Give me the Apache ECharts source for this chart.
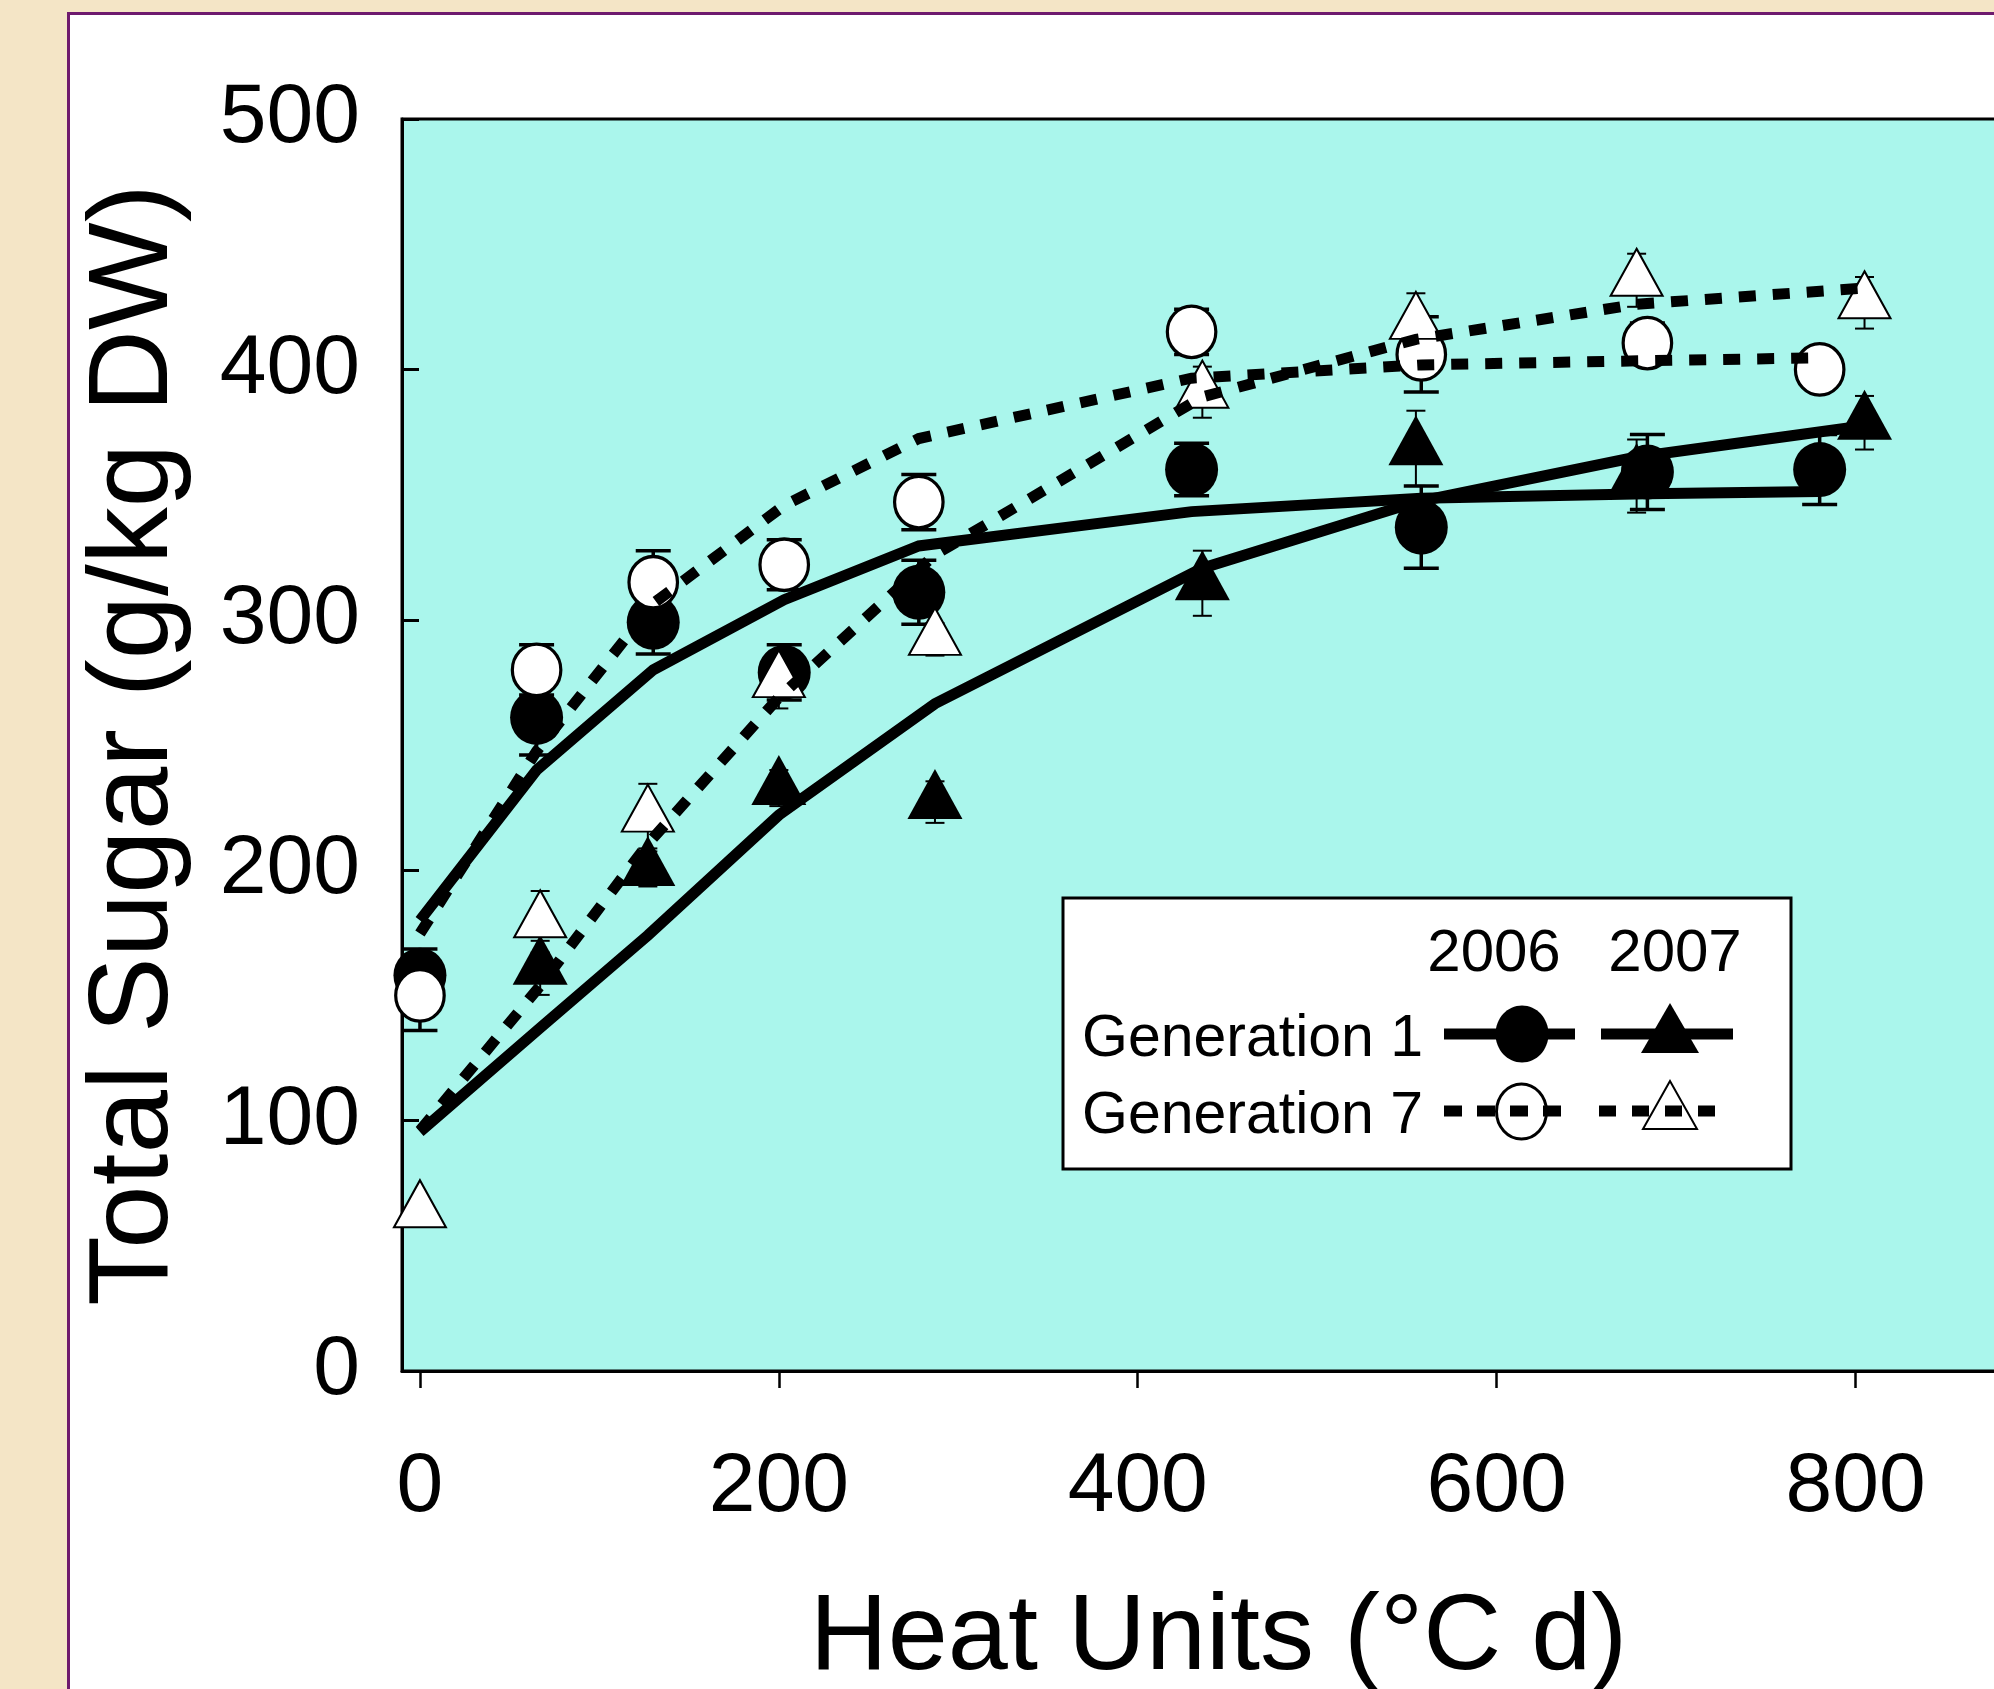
<!DOCTYPE html>
<html>
<head>
<meta charset="utf-8">
<script src="https://cdn.jsdelivr.net/npm/echarts@6/dist/echarts.min.js"></script>
<style>
html,body{margin:0;padding:0;width:1994px;height:1689px;overflow:hidden;background:#F4E5C6;}
#panel{position:absolute;left:67px;top:12px;width:2000px;height:1720px;background:#fff;border-left:3px solid #6E1A6E;border-top:3px solid #6E1A6E;box-sizing:border-box;}
#chart{position:absolute;left:0;top:0;width:2035px;height:1689px;}
</style>
</head>
<body>
<div id="panel"></div>
<div id="chart"></div>
<script>
// ---- data ----
const xTickValues = [0, 200, 400, 600, 800];
const heatUnits2006 = [0, 65, 130, 203, 278, 430, 558, 684, 780];
const heatUnits2007 = [0, 67, 127, 200, 287, 436, 555, 678, 805];

const gen1_2006 = [158, 261, 299, 279, 311, 360, 337, 359, 360];
const gen1_2006_se = [10.5, 15, 12.7, 11, 12.8, 10.5, 16.4, 15, 14];
const gen7_2006 = [150, 280, 315, 322, 347, 415, 406, 410.5, 400];
const gen7_2006_se = [14, 10, 12.6, 10, 11, 9, 15, 8, 5];

const gen1_2007 = [null, 161, 200.5, 232.8, 227.2, 314.6, 368.5, 357.4, 378.7];
const gen1_2007_se = [null, 10.8, 7, 7.2, 8.3, 13, 15, 14.6, 10.7];
const gen7_2007 = [63.6, 179.4, 221.6, 275.3, 292.2, 390.9, 418.4, 435.6, 426.6];
const gen7_2007_se = [3, 12.3, 12.9, 10.7, 6.5, 10.2, 12, 10.6, 10.3];

const fitGen1_2006 = [180, 240, 280, 308, 329.5, 343.2, 348.5, 350.3, 351.2];
const fitGen7_2006 = [174.7, 247.5, 306.5, 345.7, 372.4, 396.5, 401.8, 403.5, 404.6];
const fitGen1_2007 = [95.5, 137, 174, 222, 266.5, 320.6, 347, 365, 377.5];
const fitGen7_2007 = [96, 153.8, 210.5, 269, 326, 389, 412, 426, 432.5];

const legendYears = ['2006', '2007'];
const legendRows = ['Generation 1', 'Generation 7'];
const xTitle = 'Heat Units (°C d)';
const yTitle = 'Total Sugar (g/kg DW)';

// ---- helpers ----
const FONT = '"Liberation Sans", Arial, sans-serif';
function pts(xs, ys) {
  const out = [];
  xs.forEach((x, i) => { if (ys[i] != null) out.push([x, ys[i]]); });
  return out;
}
function errRows(xs, ys, es) {
  const out = [];
  xs.forEach((x, i) => { if (ys[i] != null && es[i] != null) out.push([x, ys[i], es[i]]); });
  return out;
}
function errRender(capHalf, lw) {
  return function (params, api) {
    const x = api.value(0), y = api.value(1), e = api.value(2);
    const t = api.coord([x, y + e]);
    const b = api.coord([x, y - e]);
    const st = { stroke: '#000', lineWidth: lw };
    return {
      type: 'group',
      children: [
        { type: 'line', shape: { x1: t[0], y1: t[1], x2: b[0], y2: b[1] }, style: st },
        { type: 'line', shape: { x1: t[0] - capHalf, y1: t[1], x2: t[0] + capHalf, y2: t[1] }, style: st },
        { type: 'line', shape: { x1: b[0] - capHalf, y1: b[1], x2: b[0] + capHalf, y2: b[1] }, style: st }
      ]
    };
  };
}
function fitLine(xs, ys, dashed) {
  return {
    type: 'line', data: pts(xs, ys), showSymbol: false, symbol: 'none', z: 5, silent: true,
    lineStyle: { color: '#000', width: 11, type: dashed ? [17, 17] : 'solid', cap: 'butt', join: 'miter' }
  };
}

const chart = echarts.init(document.getElementById('chart'), null, { renderer: 'canvas' });

// legend drawn as graphic elements (2x2 layout with year headers)
const LX = 1063, LY = 898;
const legendGraphic = [
  { type: 'rect', shape: { x: LX, y: LY, width: 728, height: 271 }, style: { fill: '#fff', stroke: '#000', lineWidth: 3 }, z: 10 },
  { type: 'text', x: 1494, y: 954, style: { text: legendYears[0], font: '60px ' + FONT, fill: '#000', align: 'center', verticalAlign: 'middle' }, z: 11 },
  { type: 'text', x: 1675, y: 954, style: { text: legendYears[1], font: '60px ' + FONT, fill: '#000', align: 'center', verticalAlign: 'middle' }, z: 11 },
  { type: 'text', x: 1082, y: 1040, style: { text: legendRows[0], font: '59px ' + FONT, fill: '#000', align: 'left', verticalAlign: 'middle' }, z: 11 },
  { type: 'text', x: 1082, y: 1117, style: { text: legendRows[1], font: '59px ' + FONT, fill: '#000', align: 'left', verticalAlign: 'middle' }, z: 11 },
  // Generation 1, 2006
  { type: 'line', shape: { x1: 1444, y1: 1034, x2: 1575, y2: 1034 }, style: { stroke: '#000', lineWidth: 11 }, z: 11 },
  { type: 'ellipse', shape: { cx: 1522, cy: 1034, rx: 26.5, ry: 28.5 }, style: { fill: '#000' }, z: 12 },
  // Generation 1, 2007
  { type: 'line', shape: { x1: 1601, y1: 1034, x2: 1733, y2: 1034 }, style: { stroke: '#000', lineWidth: 11 }, z: 11 },
  { type: 'polygon', shape: { points: [[1670, 1003], [1641, 1053], [1699, 1053]] }, style: { fill: '#000' }, z: 12 },
  // Generation 7, 2006
  { type: 'ellipse', shape: { cx: 1521.5, cy: 1111.5, rx: 25, ry: 27.5 }, style: { fill: '#fff', stroke: '#000', lineWidth: 3 }, z: 11 },
  { type: 'line', shape: { x1: 1444, y1: 1111, x2: 1562, y2: 1111 }, style: { stroke: '#000', lineWidth: 11, lineDash: [18, 15] }, z: 12 },
  // Generation 7, 2007
  { type: 'polygon', shape: { points: [[1670, 1081], [1643, 1129], [1697, 1129]] }, style: { fill: '#fff', stroke: '#000', lineWidth: 2 }, z: 11 },
  { type: 'line', shape: { x1: 1599, y1: 1111, x2: 1717, y2: 1111 }, style: { stroke: '#000', lineWidth: 11, lineDash: [17, 16] }, z: 12 }
];

const option = {
  animation: false,
  backgroundColor: 'transparent',
  grid: {
    left: 402, top: 119, right: 0, bottom: 318,
    outerBoundsMode: 'none', containLabel: false,
    show: true, backgroundColor: '#AAF6EC', borderColor: '#000', borderWidth: 3
  },
  xAxis: {
    type: 'value', min: -10, max: 900,
    axisLine: { show: true, onZero: false, lineStyle: { color: '#000', width: 3 } },
    axisTick: { show: true, inside: false, length: 17, lineStyle: { color: '#000', width: 2.5 }, customValues: xTickValues },
    axisLabel: { customValues: xTickValues, margin: 75, fontSize: 84, color: '#000', fontFamily: FONT },
    splitLine: { show: false },
    name: xTitle, nameLocation: 'middle', nameGap: 214,
    nameTextStyle: { fontSize: 108, color: '#000', fontFamily: FONT }
  },
  yAxis: {
    type: 'value', min: 0, max: 500, interval: 100,
    axisLine: { show: true, onZero: false, lineStyle: { color: '#000', width: 3 } },
    axisTick: { show: true, inside: true, length: 17, lineStyle: { color: '#000', width: 3 } },
    axisLabel: { margin: 42, fontSize: 84, color: '#000', fontFamily: FONT, padding: [8, 0, 0, 0] },
    splitLine: { show: false },
    name: yTitle, nameLocation: 'middle', nameGap: 209,
    nameTextStyle: { fontSize: 114, color: '#000', fontFamily: FONT }
  },
  graphic: legendGraphic,
  series: [
    {
      type: 'custom', silent: true, z: 2,
      renderItem: errRender(17.5, 3.5),
      encode: { x: 0, y: 1 },
      data: errRows(heatUnits2006, gen1_2006, gen1_2006_se).concat(errRows(heatUnits2006, gen7_2006, gen7_2006_se))
    },
    {
      type: 'scatter', silent: true, z: 2, data: pts(heatUnits2006, gen1_2006),
      symbol: 'circle', symbolSize: [53, 55], itemStyle: { color: '#000', opacity: 1 }
    },
    {
      type: 'scatter', silent: true, z: 2, data: pts(heatUnits2006, gen7_2006),
      symbol: 'circle', symbolSize: [48.5, 51.5], itemStyle: { color: '#fff', borderColor: '#000', borderWidth: 3.3, opacity: 1 }
    },
    {
      type: 'scatter', silent: true, z: 2, data: pts(heatUnits2007, gen1_2007),
      symbol: 'triangle', symbolSize: [55, 50], symbolOffset: [0, -8], itemStyle: { color: '#000', opacity: 1 }
    },
    {
      type: 'scatter', silent: true, z: 2, data: pts(heatUnits2007, gen7_2007),
      symbol: 'triangle', symbolSize: [52, 47], symbolOffset: [0, -8], itemStyle: { color: '#fff', borderColor: '#000', borderWidth: 2, opacity: 1 }
    },
    {
      type: 'custom', silent: true, z: 2,
      renderItem: errRender(9.5, 2),
      encode: { x: 0, y: 1 },
      data: errRows(heatUnits2007, gen1_2007, gen1_2007_se).concat(errRows(heatUnits2007, gen7_2007, gen7_2007_se))
    },
    fitLine(heatUnits2006, fitGen1_2006, false),
    fitLine(heatUnits2006, fitGen7_2006, true),
    fitLine(heatUnits2007, fitGen1_2007, false),
    fitLine(heatUnits2007, fitGen7_2007, true)
  ]
};
chart.setOption(option);
</script>
</body>
</html>
